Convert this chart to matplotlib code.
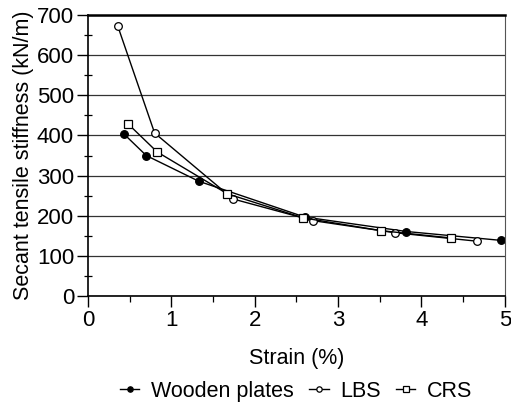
import numpy as np
import matplotlib.pyplot as plt
from matplotlib.ticker import MultipleLocator

plt.rcParams['font.family'] = ['Liberation Sans', 'DejaVu Sans']

# Strain (%) and secant tensile stiffness (kN/m)
wood_strain = [0.43, 0.70, 1.33, 2.60, 3.82, 4.95]
wood_stiff = [404, 350, 286, 197, 161, 139]

lbs_strain = [0.36, 0.80, 1.74, 2.70, 3.68, 4.66]
lbs_stiff = [671, 406, 242, 188, 158, 137]

crs_strain = [0.48, 0.83, 1.67, 2.58, 3.52, 4.35]
crs_stiff = [429, 359, 255, 195, 163, 145]

fig = plt.figure(figsize = (5.11, 4.12), dpi = 100)
ax = fig.add_axes([0.172, 0.281, 0.816, 0.683])

line_kw = dict(color = 'black', lw = 1.0, markersize = 5.5, markeredgewidth = 0.9)
ax.plot(wood_strain, wood_stiff, marker = 'o', markerfacecolor = 'black',
        label = 'Wooden plates', **line_kw)
ax.plot(lbs_strain, lbs_stiff, marker = 'o', markerfacecolor = 'white',
        label = 'LBS', **line_kw)
ax.plot(crs_strain, crs_stiff, marker = 's', markerfacecolor = 'white',
        label = 'CRS', **line_kw)

ax.set_xlim(0, 5)
ax.set_ylim(0, 700)
ax.xaxis.set_major_locator(MultipleLocator(1))
ax.xaxis.set_minor_locator(MultipleLocator(0.5))
ax.yaxis.set_major_locator(MultipleLocator(100))
ax.yaxis.set_minor_locator(MultipleLocator(50))

ax.grid(axis = 'y', color = '#333333', lw = 0.9)
ax.set_axisbelow(True)

ax.tick_params(which = 'major', direction = 'out', length = 8, width = 1,
               labelsize = 16, pad = 2)
ax.tick_params(which = 'minor', direction = 'inout', length = 6, width = 0.9)
ax.tick_params(axis = 'x', which = 'minor', direction = 'out', length = 4)

for side in ['left', 'bottom']:
    ax.spines[side].set_linewidth(1.2)
ax.spines['top'].set_linewidth(1.8)
ax.spines['right'].set_linewidth(0.8)
ax.spines['right'].set_color('#555555')

ax.set_xlabel('Strain (%)', fontsize = 15.5, labelpad = 12)
ax.set_ylabel('Secant tensile stiffness (kN/m)', fontsize = 15.5, labelpad = 2)

fig.legend(loc = 'center', bbox_to_anchor = (0.58, 0.05), ncol = 3, frameon = False,
           fontsize = 15.5, handlelength = 0.9, handletextpad = 0.55,
           columnspacing = 0.7, markerscale = 0.7)

fig.savefig('out.png', dpi = 100)
